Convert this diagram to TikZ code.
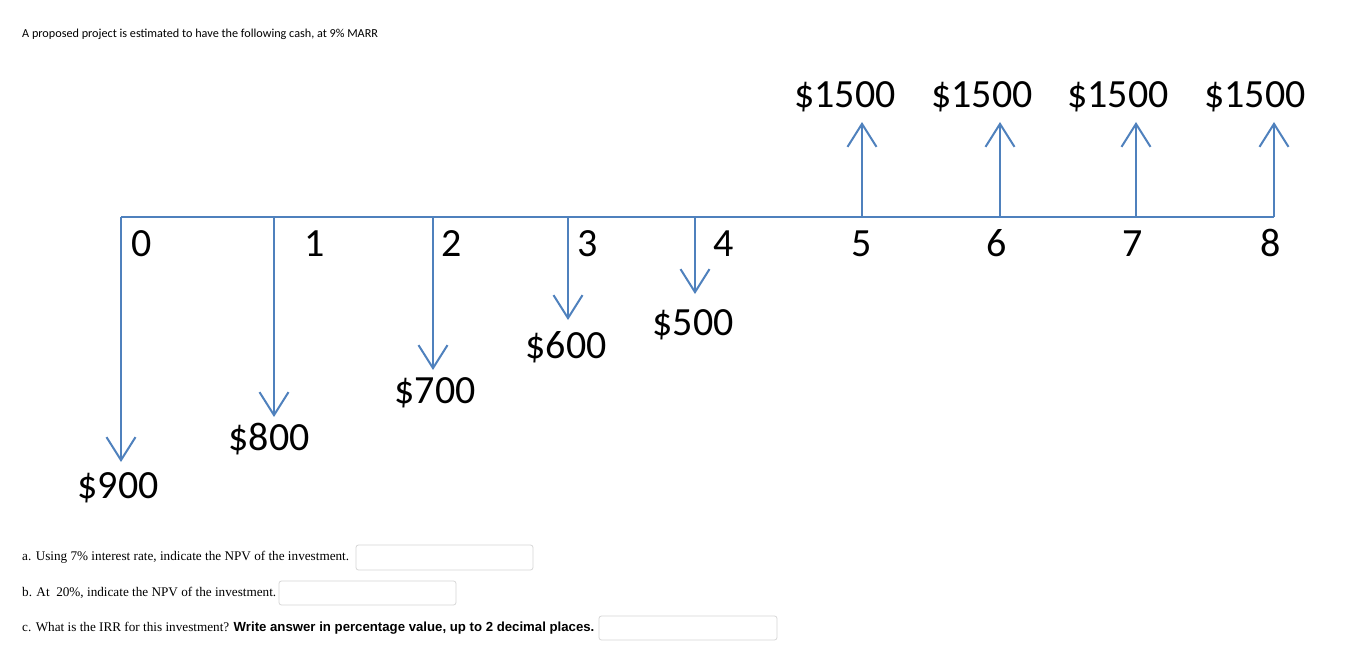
\documentclass[tikz,border=0pt]{standalone}
\usepackage{fontspec}
\setmainfont{Carlito}
\newfontfamily\serifq{Liberation Serif}
\newfontfamily\sansq{Liberation Sans}
\usetikzlibrary{arrows.meta}
\definecolor{flowblue}{RGB}{79,129,189}
\definecolor{boxgray}{RGB}{215,215,215}
\tikzset{
  flow/.style={draw=flowblue, line width=2pt},
  flowarrow/.style={flow, -{Straight Barb[length=23pt,width=29pt,line width=2pt]}},
  big/.style={inner sep=0pt, anchor=base, font=\fontsize{40}{44}\selectfont},
  qtext/.style={inner sep=0pt, anchor=base west, font=\serifq\fontsize{13.2}{15}\selectfont},
  ansbox/.style={draw=boxgray, line width=0.8pt, rounded corners=2.5pt, fill=white},
}
\begin{document}
\begin{tikzpicture}[x=1pt,y=-1pt]
\useasboundingbox (0,0) rectangle (1349,658);
\fill[white] (0,0) rectangle (1349,658);
\node[inner sep=0pt, anchor=base west, font=\fontsize{12.2}{14}\selectfont] (title) at (22,38) {A proposed project is estimated to have the following cash, at 9\% MARR};
% timeline points
\coordinate (t0) at (121,217);
\coordinate (t1) at (274,217);
\coordinate (t2) at (433,217);
\coordinate (t3) at (568,217);
\coordinate (t4) at (695,217);
\coordinate (t5) at (862,217);
\coordinate (t6) at (1000,217);
\coordinate (t7) at (1136,217);
\coordinate (t8) at (1274,217);
\draw[flow] (t0) -- (t8);
% arrow ends
\coordinate (e0) at (121,462);
\coordinate (e1) at (274,417);
\coordinate (e2) at (433,370);
\coordinate (e3) at (568,320);
\coordinate (e4) at (695,294);
\coordinate (e5) at (862,122);
\coordinate (e6) at (1000,122);
\coordinate (e7) at (1136,122);
\coordinate (e8) at (1274,122);
\foreach \i in {0,...,8} {\draw[flowarrow] (t\i) -- (e\i);}
% period numbers
\node[big] (n0) at (142,256) {0};
\node[big] (n1) at (315,256) {1};
\node[big] (n2) at (452,256) {2};
\node[big] (n3) at (588,256) {3};
\node[big] (n4) at (724,256) {4};
\node[big] (n5) at (862,256) {5};
\node[big] (n6) at (997,256) {6};
\node[big] (n7) at (1133,256) {7};
\node[big] (n8) at (1271,256) {8};
% amounts
\node[big] (a0) at (118,498) {\$900};
\node[big] (a1) at (269,450) {\$800};
\node[big] (a2) at (435,403) {\$700};
\node[big] (a3) at (566,358) {\$600};
\node[big] (a4) at (693,335) {\$500};
\node[big] (a5) at (845,108) {\$1500};
\node[big] (a6) at (982,108) {\$1500};
\node[big] (a7) at (1118,108) {\$1500};
\node[big] (a8) at (1255,108) {\$1500};
% questions
\node[qtext] (qa) at (22,560) {a. Using 7\% interest rate, indicate the NPV of the investment.};
\draw[ansbox] (356,545) rectangle (533,570);
\node[qtext] (qb) at (22,596) {b. At\ \ 20\%, indicate the NPV of the investment.};
\draw[ansbox] (279,581) rectangle (456,605);
\node[qtext] (qc) at (22,631) {c. What is the IRR for this investment? {\sansq\bfseries Write answer in percentage value, up to 2 decimal places.}};
\draw[ansbox] (599,616) rectangle (777,640);
\end{tikzpicture}
\end{document}
